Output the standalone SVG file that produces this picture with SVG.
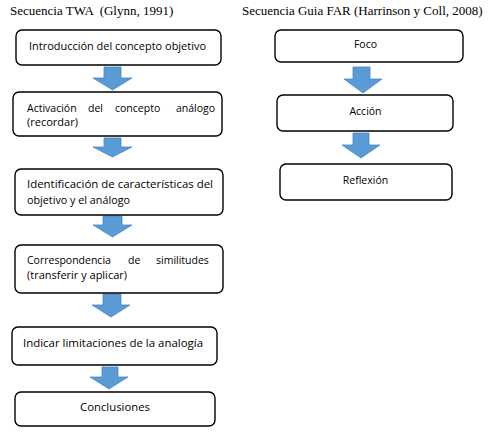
<svg xmlns="http://www.w3.org/2000/svg" width="489" height="432" viewBox="0 0 489 432">
<style>
.box{fill:#fff;stroke:#000;stroke-width:1.4}
.arr{fill:#5b9bd5;stroke:#4a86c0;stroke-width:0.8}
.t{font-family:"Open Sans","Liberation Sans",sans-serif;font-size:10.5px;fill:#000}
.c{text-anchor:middle}
.h{font-family:"Liberation Serif","Times New Roman",serif;font-size:13px;fill:#000}
</style>
<rect width="489" height="432" fill="#fff"/>
<text class="h" x="10" y="15" xml:space="preserve">Secuencia TWA  (Glynn, 1991)</text>
<text class="h" x="242" y="15">Secuencia Guia FAR (Harrinson y Coll, 2008)</text>

<g id="connectors">
<path class="arr" d="M104,67 H121 V78 H132 L112.5,90 L93,78 H104 Z"/>
<path class="arr" d="M104,138 H121 V147 H132 L112.5,157 L93,147 H104 Z"/>
<path class="arr" d="M103,216 H122 V225 H132 L112.5,237 L93,225 H103 Z"/>
<path class="arr" d="M103,294 H121 V305 H130 L111,317 L92,305 H103 Z"/>
<path class="arr" d="M102,367 H118 V377 H128 L109,389 L90,377 H102 Z"/>
<path class="arr" d="M353,67 H370 V79 H382 L363,93 L344,79 H353 Z"/>
<path class="arr" d="M353,133 H369 V145 H380 L361,158 L342,145 H353 Z"/>
</g>

<g id="n1"><rect class="box" x="16" y="30" width="205" height="35" rx="6"/>
<text class="t" x="29" y="50" textLength="177" lengthAdjust="spacingAndGlyphs">Introducción del concepto objetivo</text></g>

<g id="n2"><rect class="box" x="13" y="92" width="209" height="44" rx="6"/>
<text class="t" y="112"><tspan x="27">Activación</tspan><tspan x="88">del</tspan><tspan x="115">concepto</tspan><tspan x="176">análogo</tspan></text>
<text class="t" x="27" y="126" textLength="51" lengthAdjust="spacingAndGlyphs">(recordar)</text></g>

<g id="n3"><rect class="box" x="15" y="169" width="208" height="46" rx="6"/>
<text class="t" x="27" y="188" textLength="186" lengthAdjust="spacingAndGlyphs">Identificación de características del</text>
<text class="t" x="27" y="204" textLength="103" lengthAdjust="spacingAndGlyphs">objetivo y el análogo</text></g>

<g id="n4"><rect class="box" x="15" y="245" width="208" height="48" rx="6"/>
<text class="t" y="264"><tspan x="27">Correspondencia</tspan><tspan x="128">de</tspan><tspan x="156">similitudes</tspan></text>
<text class="t" x="27" y="279" textLength="100" lengthAdjust="spacingAndGlyphs">(transferir y aplicar)</text></g>

<g id="n5"><rect class="box" x="12" y="327" width="205" height="38" rx="6"/>
<text class="t" x="23" y="347" textLength="180" lengthAdjust="spacingAndGlyphs">Indicar limitaciones de la analogía</text></g>

<g id="n6"><rect class="box" x="15" y="392" width="200" height="34" rx="6"/>
<text class="t" x="80" y="411" textLength="70" lengthAdjust="spacingAndGlyphs">Conclusiones</text></g>

<g id="f1"><rect class="box" x="275" y="30" width="188" height="32" rx="6"/>
<text class="t c" x="365.5" y="48">Foco</text></g>

<g id="f2"><rect class="box" x="277" y="95" width="176" height="36" rx="6"/>
<text class="t c" x="365.5" y="115">Acción</text></g>

<g id="f3"><rect class="box" x="280" y="164" width="172" height="36" rx="6"/>
<text class="t c" x="365.5" y="184">Reflexión</text></g>
</svg>
